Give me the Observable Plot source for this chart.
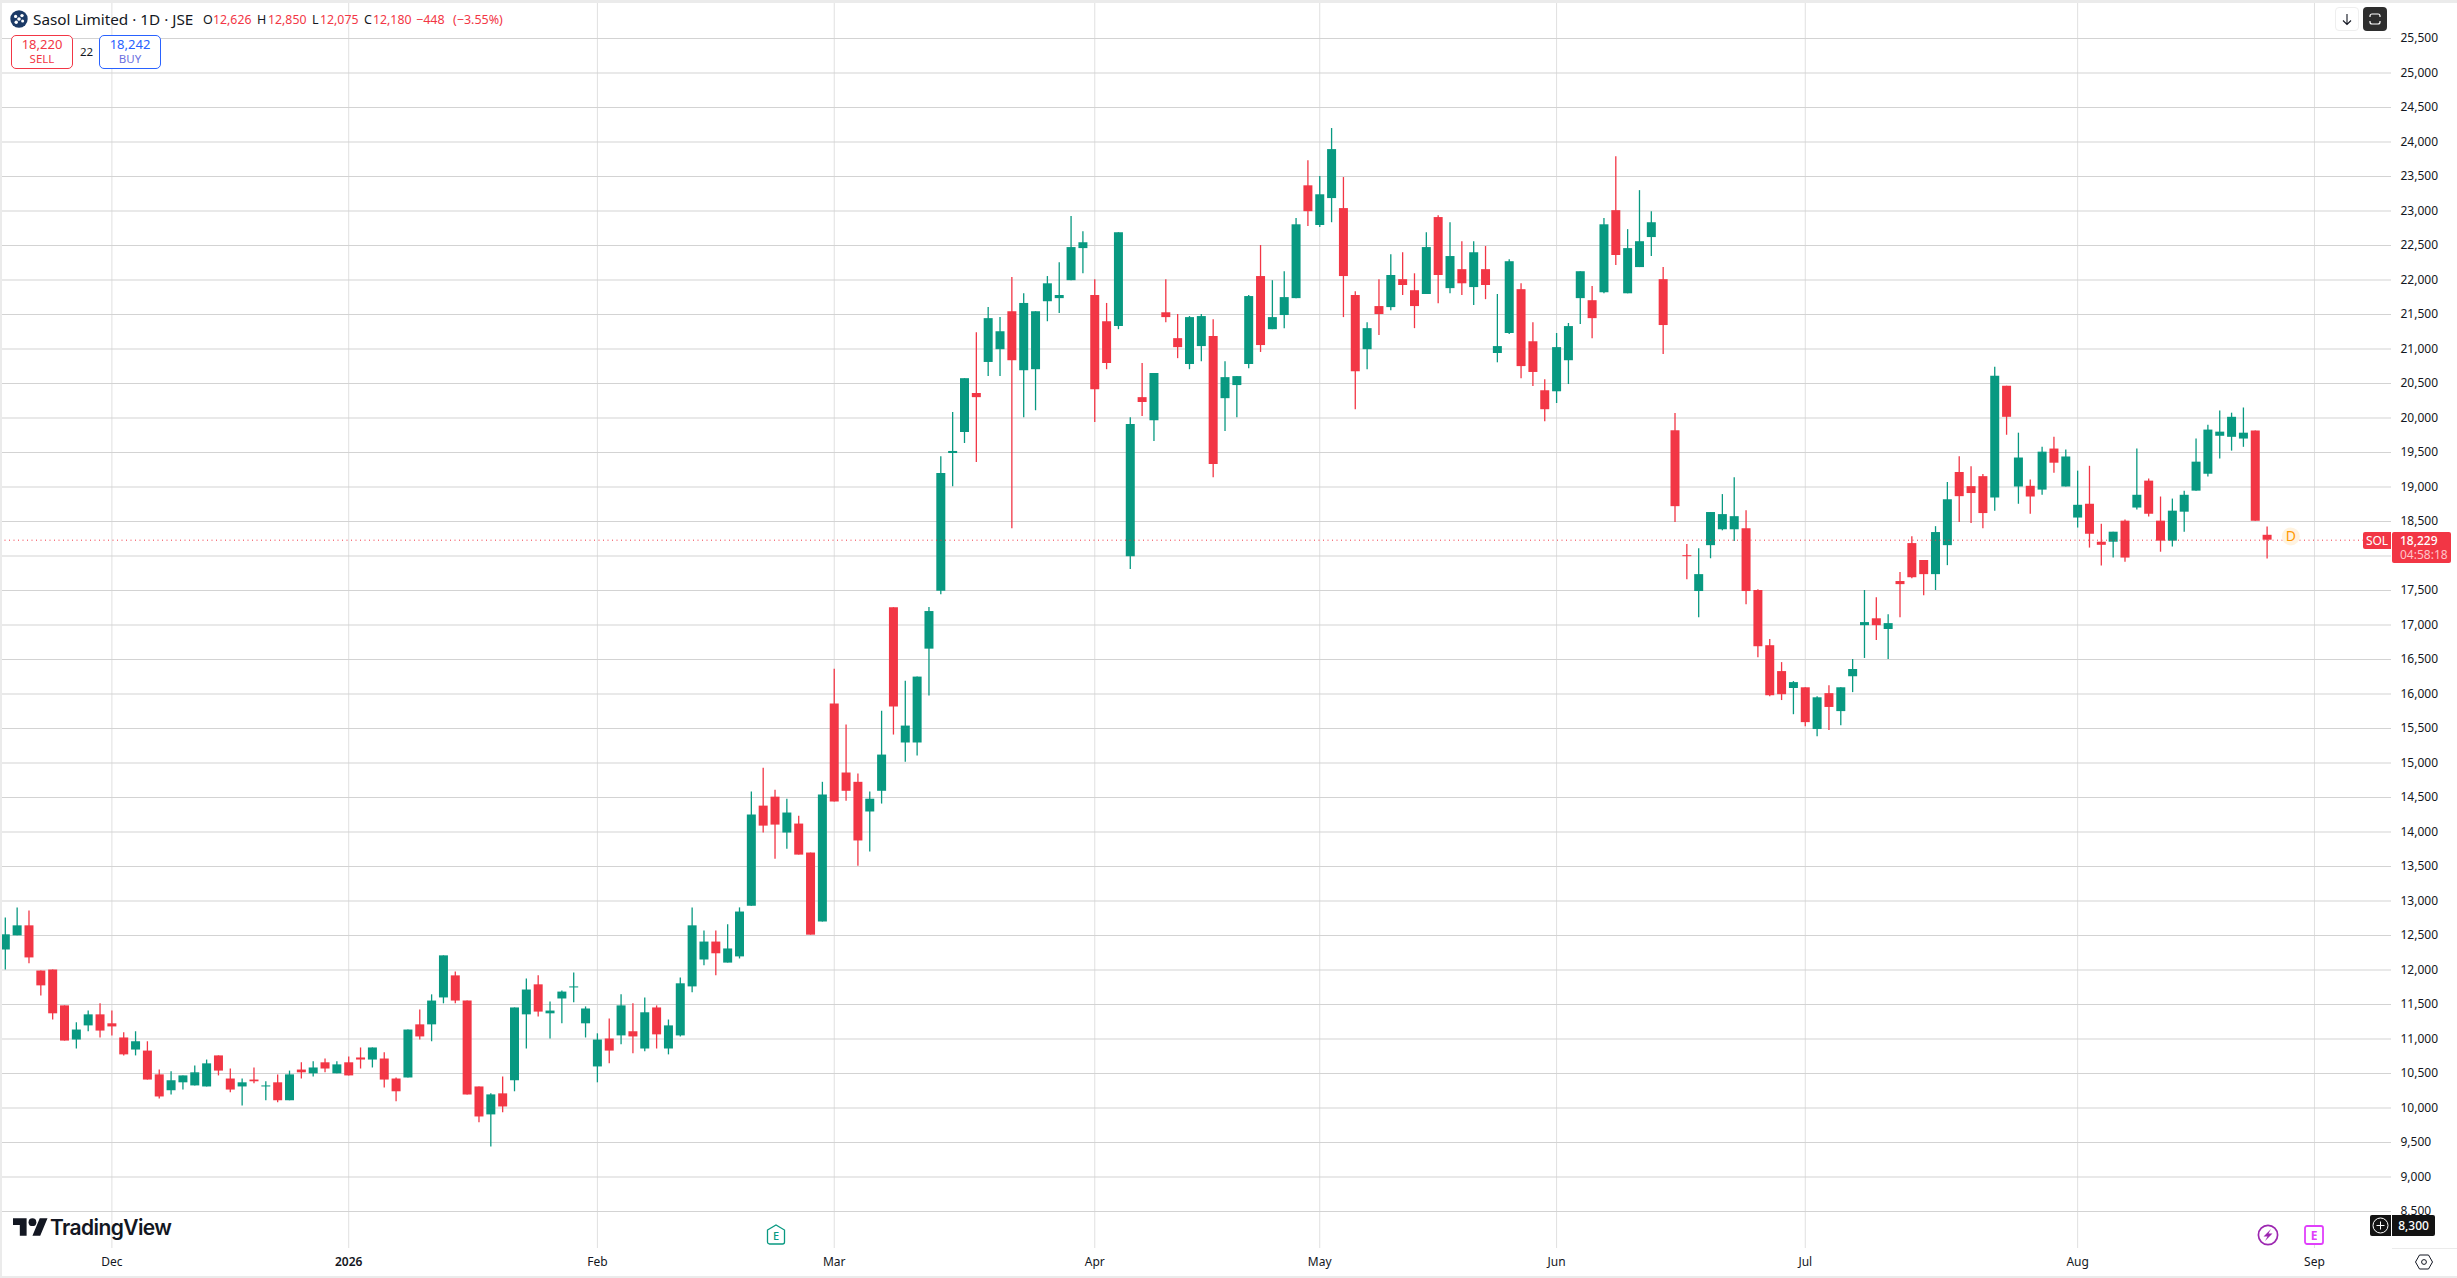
<!DOCTYPE html>
<html><head><meta charset="utf-8">
<script src="https://cdn.jsdelivr.net/npm/d3@7"></script>
<script src="https://cdn.jsdelivr.net/npm/@observablehq/plot@0.6"></script>
<style>
html,body{margin:0;padding:0;background:#fff;}
#wrap{position:relative;width:2457px;height:1278px;overflow:hidden;font-family:"Noto Sans",sans-serif;color:#131722;}
#chart svg{position:absolute;left:0;top:0;display:block;background:transparent;}
.a{position:absolute;white-space:nowrap;line-height:1;}
.red{color:#f23645}
.box{position:absolute;box-sizing:border-box;background:#fff;border-radius:5px;border:1px solid;text-align:center;}
.strip{position:absolute;background:#ebebeb;}
</style></head><body>
<div id="wrap"><div id="chart"></div>
<div class="strip" style="left:0;top:0;width:2457px;height:3px"></div>
<div class="strip" style="left:0;top:0;width:2px;height:1278px"></div>
<div class="strip" style="left:0;top:1276px;width:2457px;height:2px"></div>
<div class="strip" style="left:2392px;top:1248px;width:65px;height:1px"></div>

<svg class="a" style="left:10px;top:10px" width="18" height="18" viewBox="0 0 18 18"><circle cx="9" cy="9" r="8.7" fill="#1b3a66"/><circle cx="9" cy="9" r="1.8" fill="#fff"/><circle cx="5.6" cy="6.4" r="1.6" fill="#fff"/><circle cx="12" cy="5.6" r="1.7" fill="#fff"/><circle cx="12.6" cy="11" r="1.5" fill="#fff"/><circle cx="6.2" cy="12.2" r="1.7" fill="#fff"/></svg>
<div class="a" style="left:33px;top:11.5px;font-size:15.3px">Sasol Limited · 1D · JSE</div>
<div class="a" style="left:203px;top:13.5px;font-size:12.5px">O</div><div class="a red" style="left:213px;top:13.5px;font-size:12.3px">12,626</div>
<div class="a" style="left:257px;top:13.5px;font-size:12.5px">H</div><div class="a red" style="left:268px;top:13.5px;font-size:12.3px">12,850</div>
<div class="a" style="left:312px;top:13.5px;font-size:12.5px">L</div><div class="a red" style="left:320px;top:13.5px;font-size:12.3px">12,075</div>
<div class="a" style="left:364px;top:13.5px;font-size:12.5px">C</div><div class="a red" style="left:373px;top:13.5px;font-size:12.3px">12,180</div>
<div class="a red" style="left:416px;top:13.5px;font-size:12.5px">−448</div><div class="a red" style="left:453px;top:13.5px;font-size:12.5px">(−3.55%)</div>

<div class="box" style="left:11px;top:35px;width:62px;height:34px;border-color:#f23645;color:#f23645"><div style="font-size:13px;line-height:15px;margin-top:1px">18,220</div><div style="font-size:11.5px;line-height:13px">SELL</div></div>
<div class="a" style="left:80px;top:46px;font-size:11.5px">22</div>
<div class="box" style="left:99px;top:35px;width:62px;height:34px;border-color:#2962ff;color:#2962ff"><div style="font-size:13px;line-height:15px;margin-top:1px">18,242</div><div style="font-size:11.5px;line-height:13px;color:#6b6fe0">BUY</div></div>

<div class="box" style="left:2335px;top:7px;width:24px;height:24px;border-color:#eee;border-radius:4px"><svg width="22" height="22" viewBox="0 0 22 22" style="display:block"><path d="M11 6v10M7 12.5l4 4 4-4" fill="none" stroke="#131722" stroke-width="1.1"/></svg></div>
<svg class="a" style="left:2363px;top:7px" width="24" height="24" viewBox="0 0 24 24"><rect width="24" height="24" rx="4" fill="#2e2e2e"/><path d="M7 10V9a2 2 0 0 1 2-2h6a2 2 0 0 1 2 2v1M7 14v1a2 2 0 0 0 2 2h6a2 2 0 0 0 2-2v-1" fill="none" stroke="#fff" stroke-width="1.2"/></svg>

<div class="a" style="left:2363px;top:532px;width:28px;height:17px;background:#f23645;color:#fff;border-radius:2px 0 0 2px;font-size:12px;line-height:17px;text-align:center">SOL</div>
<div class="a" style="left:2392px;top:532px;width:59px;height:31px;background:#f23645;border-radius:2px"><div style="color:#fff;font-size:12px;line-height:15px;margin-top:1px;padding-left:8px;font-weight:500">18,229</div><div style="color:#ffc4c9;font-size:12px;line-height:14px;padding-left:8px">04:58:18</div></div>

<div class="a" style="left:2370px;top:1215px;width:21px;height:21px;background:#131313;border-radius:2px 0 0 2px"><svg width="21" height="21" viewBox="0 0 21 21" style="display:block"><circle cx="10.5" cy="10.5" r="7.5" fill="none" stroke="#fff"/><path d="M10.5 6.5v8M6.5 10.5h8" stroke="#fff"/></svg></div>
<div class="a" style="left:2392px;top:1215px;width:43px;height:21px;background:#131313;color:#fff;font-size:12px;line-height:21px;text-align:center;border-radius:0 2px 2px 0;font-weight:500">8,300</div>

<svg class="a" style="left:2257px;top:1224px" width="22" height="22" viewBox="0 0 22 22"><circle cx="11" cy="11" r="9.6" fill="#fff" stroke="#9c27b0" stroke-width="1.7"/><path d="M14 5L6.500 12.500h4L8 17l7.500-7.500h-4z" fill="#9c27b0"/></svg>
<svg class="a" style="left:2304px;top:1225px" width="20" height="20" viewBox="0 0 20 20"><rect x="1" y="1" width="18" height="18" rx="2" fill="#fff" stroke="#e040fb" stroke-width="1.8"/><text x="10" y="14.5" text-anchor="middle" font-size="12" font-weight="700" fill="#e040fb" font-family="Noto Sans">E</text></svg>
<svg class="a" style="left:766px;top:1224px" width="20" height="21" viewBox="0 0 20 21"><path d="M1.500 6L10 1l8.500 5v12a2 2 0 0 1-2 2h-13a2 2 0 0 1-2-2z" fill="#fff" stroke="#089981" stroke-width="1.3"/><text x="10" y="16" text-anchor="middle" font-size="11" font-weight="500" fill="#089981" font-family="Noto Sans">E</text></svg>

<svg class="a" style="left:2414px;top:1253px" width="20" height="18" viewBox="0 0 20 18"><path d="M5.500 2h9L18.500 9l-4 7h-9l-4-7z" fill="none" stroke="#131722"/><circle cx="10" cy="9" r="2.400" fill="none" stroke="#131722"/></svg>

<svg class="a" style="left:13px;top:1218px" width="35" height="18" viewBox="0 0 36 18"><path d="M14 18H7V7H0V0h14zM28 18h-8L27.500 0h8z" fill="#131722"/><circle cx="20" cy="4" r="4" fill="#131722"/></svg>
<div class="a" style="left:50px;top:1217px;font-family:Inter;font-weight:600;font-size:21px;letter-spacing:-.6px;color:#131722">TradingView</div>
</div>
<script>
const opens = [
12290,12495,12640,11985,12000,11480,10985,11190,11350,11220,
11015,10840,10825,10480,10250,10365,10320,10305,10755,10420,
10305,10405,10305,10365,10105,10550,10495,10655,10495,10655,
10725,10695,10710,10420,10435,11205,11205,11595,11915,11550,
10305,9900,10205,10395,11350,11785,11365,11580,11740,11220,
10595,11000,11045,11105,10855,11450,10855,11045,11755,12145,
12405,12100,12190,12925,14375,14505,13985,14115,13695,12695,
15855,14855,14720,14290,14590,17250,15290,15290,16650,17490,
19485,19790,20355,20805,20990,21540,20685,20700,21685,21730,
21990,22455,21775,21395,21325,17990,20295,19960,21525,21150,
20775,21035,21180,20280,20470,20775,22050,21280,21485,21730,
23365,22790,23180,23035,21775,20990,21615,21600,22005,21845,
21790,22905,21875,22150,21890,22150,20935,21225,21860,21105,
20395,20380,20830,21730,21700,21815,23005,21800,22180,22615,
22005,19815,18005,17485,18150,18380,18380,18395,17500,16700,
16325,16080,16090,15485,16005,15745,16250,16990,17090,16935,
17630,18180,17935,17730,18150,19210,19005,19150,18840,20460,
19000,19010,18955,19550,19000,18550,18750,18200,18200,18505,
18695,19085,18505,18215,18635,18940,19185,19735,19720,19695,19810,18300];
const highs = [
12755,12900,12855,11985,12000,11480,11235,11405,11510,11405,
11090,11105,10960,10550,10525,10465,10610,10695,10755,10565,
10420,10580,10380,10480,10535,10655,10670,10710,10670,10740,
10870,10870,10800,10435,11130,11420,11640,12205,11970,11550,
10305,10205,10450,11450,11870,11915,11535,11695,11955,11465,
11075,11290,11640,11510,11595,11480,11275,11885,12900,12565,
12565,12655,12900,14580,14925,14605,14475,14230,13695,14720,
16360,15550,14840,14580,15750,17250,16185,16245,17255,19440,
20080,20570,21235,21600,21455,22035,21800,21540,22050,22250,
22920,22700,22005,21660,22685,20005,20790,20645,22005,21500,
21470,21500,21425,20815,20600,21775,22500,21990,22120,22890,
23730,23500,24195,23485,21830,21380,22005,22365,22395,22090,
22685,22930,22830,22555,22555,22485,21790,22295,21945,21380,
20555,21225,21370,22120,21905,22890,23785,22730,23295,22990,
22180,20065,18165,18105,18630,18890,19135,18655,17510,16790,
16455,16180,16090,15960,16120,16090,16500,17500,17395,17150,
17760,18280,17935,18425,19065,19440,19295,19180,20735,20460,
19780,19100,19575,19720,19535,19230,19300,18460,18345,18520,
19550,19115,18855,18825,18940,19695,19895,20100,20070,20145,19810,18420];
const lows = [
12000,12495,12090,11625,11275,10970,10855,11105,11015,11045,
10755,10755,10405,10130,10190,10260,10320,10305,10465,10220,
10030,10350,10105,10075,10105,10420,10450,10510,10495,10465,
10565,10580,10290,10090,10435,10985,10960,11510,11510,10190,
9785,9435,9930,10235,10855,11320,11000,11220,11525,11015,
10365,10640,10915,10785,10815,10855,10770,11030,11670,12060,
11915,12100,12160,12925,13985,13605,13750,13665,12505,12695,
14435,14445,13505,13710,14405,15405,15010,15100,15970,17440,
19005,19630,19355,20600,20600,18395,20005,20105,21395,21515,
21990,22090,19935,20700,21280,17805,20020,19660,21380,20860,
20700,20815,19135,19805,20005,20715,20950,21280,21295,21730,
22775,22760,22830,21455,20120,20700,21195,21555,21775,21295,
21790,21655,21800,21775,21630,21715,20800,21210,20570,20455,
19945,20210,20485,21355,21150,21800,22210,21800,22180,22340,
20920,18485,17655,17105,17960,18365,18210,17295,16525,15960,
15905,15700,15525,15380,15470,15540,16020,16515,16775,16500,
17105,17670,17425,17500,17860,18485,18470,18395,18650,19750,
18750,18605,18880,19200,19000,18405,18115,17855,17970,17910,
18665,18565,18055,18130,18345,18940,19145,19405,19520,19575,18505,17955];
const closes = [
12510,12640,12175,11770,11365,10970,11130,11350,11115,11175,
10770,10960,10405,10160,10395,10465,10510,10640,10535,10260,
10365,10380,10320,10105,10480,10510,10580,10565,10625,10465,
10695,10870,10405,10235,11130,11030,11550,12205,11550,10190,
9870,10190,10015,11450,11710,11390,11405,11680,11755,11435,
10985,10825,11480,11030,11380,11060,11190,11800,12640,12405,
12235,12305,12840,14245,14085,14100,14275,13665,12505,14535,
14435,14590,13870,14475,15115,15810,15535,16245,17195,19195,
19515,20570,20295,21440,21250,20830,21660,21540,21945,21775,
22470,22540,20410,20790,22685,19905,20225,20645,21455,21020,
21455,21470,19325,20585,20600,21760,21050,21455,21745,22800,
22990,23235,23890,22050,20670,21295,21500,22065,21920,21615,
22470,22065,22340,21945,22395,21920,21035,22265,20745,20660,
20120,21020,21325,22120,21440,22800,22355,22455,22555,22830,
21340,18715,17990,17730,18630,18600,18570,17485,16685,15975,
15990,16165,15585,15945,15805,16090,16355,17035,16990,17020,
17585,17685,17730,18340,18815,18860,18905,18615,20605,20010,
19420,18855,19505,19345,19435,18735,18315,18155,18345,17970,
18880,18605,18215,18650,18880,19360,19825,19795,20010,19780,18505,18229];

const monthBars = [9,50,70,92,111,131,152,175,195];
const monthNames = ["Dec","Feb","Mar","Apr","May","Jun","Jul","Aug","Sep"];
const yearBar = 29;
const yearName = "2026";
const priceTicks = [8500,9000,9500,10000,10500,11000,11500,12000,12500,13000,13500,14000,14500,15000,15500,16000,16500,17000,17500,18000,18500,19000,19500,20000,20500,21000,21500,22000,22500,23000,23500,24000,24500,25000,25500];
const lastPrice = 18229;

const GREEN = "#089981", RED = "#f23645";
const candles = opens.map((o,i)=>({i,open:o,high:highs[i],low:lows[i],close:closes[i],color:closes[i]>=o?GREEN:RED}));

const fig = Plot.plot({
  width:2457, height:1278,
  marginLeft:0, marginRight:66, marginTop:3, marginBottom:30,
  style:{fontFamily:'"Noto Sans",sans-serif',fontSize:"12px",background:"transparent",color:"#131722"},
  x:{domain:[0,191],range:[4.8,2266.6],label:null},
  y:{domain:[25500,8500],range:[38,1211],label:null},
  color:{type:"identity"},
  marks:[
    Plot.ruleX([...monthBars,yearBar],{stroke:"#e0e0e0",strokeWidth:1}),
    Plot.ruleY(priceTicks,{stroke:"#d3d3d3",strokeWidth:1}),
    Plot.ruleX(candles,{x:"i",y1:"low",y2:"high",stroke:"color",strokeWidth:1.3}),
    Plot.ruleX(candles,{x:"i",y1:"open",y2:"close",stroke:"color",strokeWidth:9}),
    Plot.ruleY([lastPrice],{stroke:RED,strokeWidth:1,strokeDasharray:"1,3.5"}),
    Plot.dot([{i:193,v:18283}],{x:"i",y:"v",r:9,fill:"#fff3e0"}),
    Plot.text([{i:193,v:18283}],{x:"i",y:"v",text:()=>"D",fill:"#ff9800",fontSize:14}),
    Plot.axisY(priceTicks,{anchor:"right",tickSize:0,tickPadding:9,fontSize:12,tickFormat:d3.format(","),fill:"#131722"}),
    Plot.axisX(monthBars,{anchor:"bottom",tickSize:0,tickPadding:9,fontSize:12,tickFormat:d=>monthNames[monthBars.indexOf(d)],fill:"#131722"}),
    Plot.axisX([yearBar],{anchor:"bottom",tickSize:0,tickPadding:9,fontSize:12,fontWeight:600,tickFormat:()=>yearName,fill:"#131722"})
  ]
});
document.getElementById("chart").appendChild(fig);
</script>
</body></html>
